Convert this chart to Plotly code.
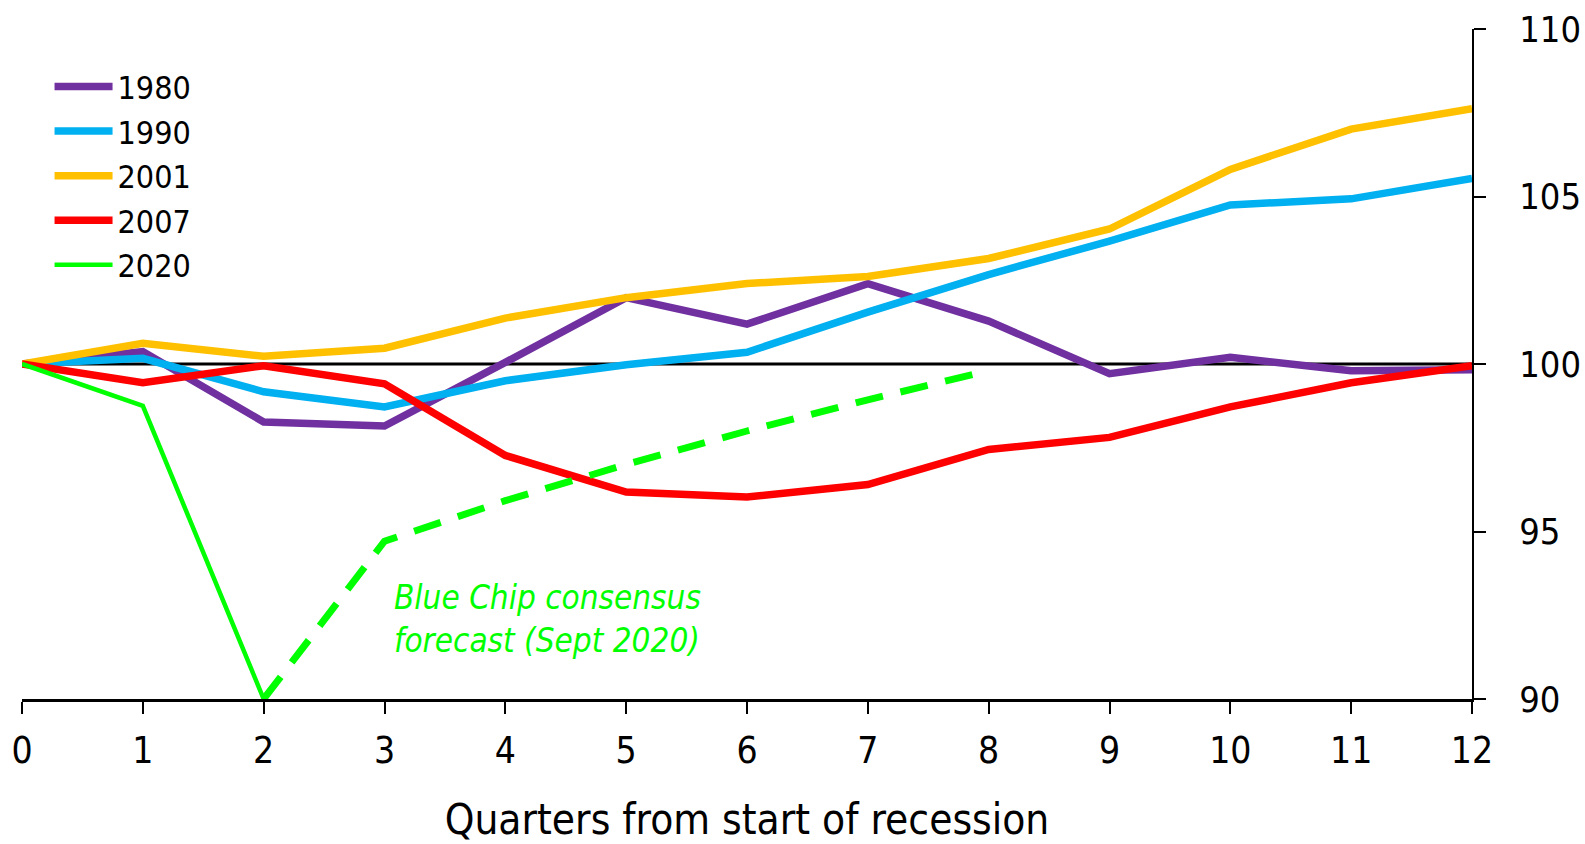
import plotly.graph_objects as go

# Quarters since the start of each recession
quarters = list(range(13))

# Real GDP indexed to 100 at the start of the recession
gdp_1980 = [100, 100.37, 98.27, 98.15, 100.05, 101.98, 101.19, 102.40, 101.28, 99.71, 100.20, 99.80, 99.83]
gdp_1990 = [100, 100.17, 99.17, 98.72, 99.50, 99.98, 100.35, 101.55, 102.67, 103.67, 104.75, 104.93, 105.54]
gdp_2001 = [100, 100.62, 100.23, 100.47, 101.37, 101.98, 102.40, 102.61, 103.15, 104.03, 105.81, 107.01, 107.62]
gdp_2007 = [100, 99.44, 99.95, 99.41, 97.27, 96.18, 96.03, 96.40, 97.45, 97.81, 98.72, 99.44, 99.95]

# 2020 actuals and the Blue Chip consensus path
quarters_2020 = [0, 1, 2]
gdp_2020 = [100, 98.75, 90.0]
quarters_fcst = [2, 3, 4, 5, 6, 7, 8]
gdp_fcst = [90.0, 94.71, 95.92, 97.00, 98.00, 98.93, 99.80]

x_ticks = list(range(13))
y_ticks = [90, 95, 100, 105, 110]

FONT = "DejaVu Sans Condensed, Tahoma, Verdana, sans-serif"
GREEN = "#00FF00"

fig = go.Figure()

series = [
    ("1980", gdp_1980, "#7030A0"),
    ("1990", gdp_1990, "#00B0F0"),
    ("2001", gdp_2001, "#FFC000"),
    ("2007", gdp_2007, "#FF0000"),
]
for name, values, color in series:
    fig.add_trace(go.Scatter(
        x=quarters, y=values, name=name, mode="lines",
        line=dict(color=color, width=7.5),
    ))

fig.add_trace(go.Scatter(
    x=quarters_2020, y=gdp_2020, name="2020", mode="lines",
    line=dict(color=GREEN, width=4.5),
))
fig.add_trace(go.Scatter(
    x=quarters_fcst, y=gdp_fcst, name="Blue Chip forecast", mode="lines",
    line=dict(color=GREEN, width=7, dash="28px,18px"), showlegend=False,
))

# Reference line at the pre-recession level
fig.add_shape(type="line", xref="x", yref="y", x0=0, x1=12, y0=100, y1=100,
              line=dict(color="black", width=3), layer="below")

fig.add_annotation(
    x=3.06, y=92.38, xref="x", yref="y", xanchor="left", yanchor="middle",
    text="<i>Blue Chip consensus<br>forecast (Sept 2020)</i>", align="left",
    showarrow=False, font=dict(family=FONT, size=33, color=GREEN),
)

fig.update_layout(
    width=1585, height=844,
    margin=dict(l=22, r=113, t=29, b=145),
    paper_bgcolor="white", plot_bgcolor="white",
    font=dict(family=FONT, size=38, color="black"),
    showlegend=True,
    legend=dict(
        x=0.019, y=0.955, xanchor="left", yanchor="top",
        font=dict(family=FONT, size=32, color="black"),
        bgcolor="rgba(0,0,0,0)", tracegroupgap=0, itemwidth=58,
    ),
    xaxis=dict(
        range=[0, 12], tickvals=x_ticks, ticktext=[str(t) for t in x_ticks],
        showgrid=False, zeroline=False, showline=True, linecolor="black", linewidth=3,
        ticks="outside", ticklen=12, tickwidth=2, tickcolor="black",
        tickfont=dict(family=FONT, size=37), ticklabelstandoff=5,
        title=dict(text="Quarters from start of recession", font=dict(family=FONT, size=42), standoff=52),
        automargin=False,
    ),
    yaxis=dict(
        range=[90, 110], tickvals=y_ticks, side="right",
        showgrid=False, zeroline=False, showline=True, linecolor="black", linewidth=2,
        ticks="outside", ticklen=12, tickwidth=2, tickcolor="black",
        tickfont=dict(family=FONT, size=36), ticklabelstandoff=26,
        automargin=False,
    ),
)

fig.write_html("out.html")
